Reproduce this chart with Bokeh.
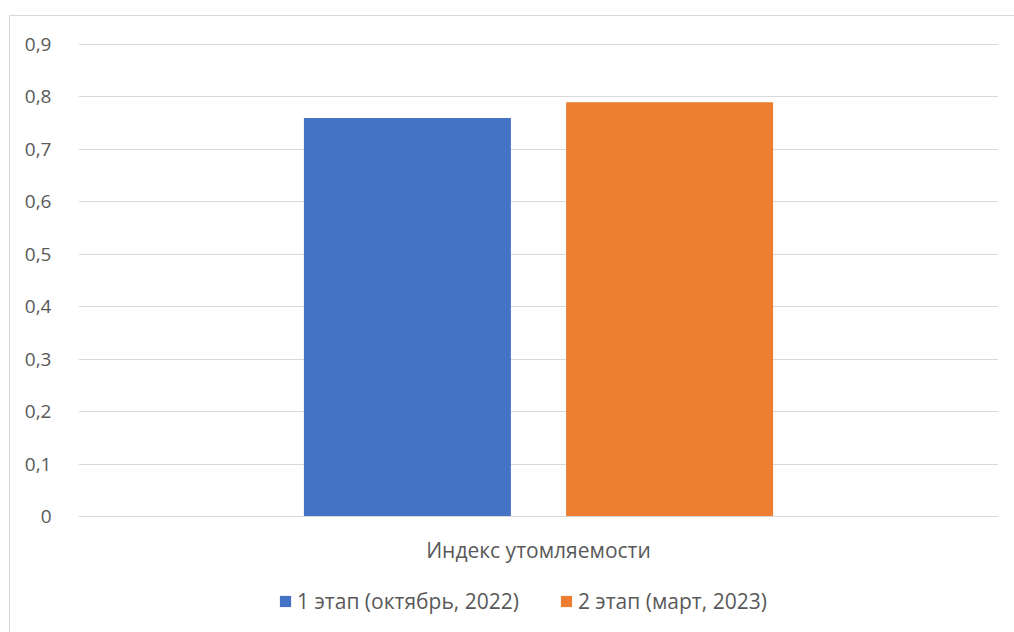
from bokeh.plotting import figure
from bokeh.layouts import column
from bokeh.models import (FactorRange, FixedTicker, CustomJSTickFormatter, Legend,
                          LegendItem, ColumnDataSource, Range1d)
from bokeh.transform import dodge
from bokeh.embed import file_html
from bokeh.resources import INLINE

categories = ["Индекс утомляемости"]
series_names = ["1 этап (октябрь, 2022)", "2 этап (март, 2023)"]
stage1 = [0.76]
stage2 = [0.79]
y_ticks = [0, 0.1, 0.2, 0.3, 0.4, 0.5, 0.6, 0.7, 0.8, 0.9]

FONT = "Open Sans"
TXT = "#595959"
GRID = "#D9D9D9"
C1 = "#4472C4"
C2 = "#ED7D31"

src = ColumnDataSource(dict(cat=categories, s1=stage1, s2=stage2))

p = figure(width=1004, height=555, x_range=FactorRange(*categories), y_range=(0, 0.902),
           output_backend="svg", toolbar_location=None,
           min_border_left=68, min_border_right=16, min_border_top=27, min_border_bottom=55)
p.outline_line_color = None
p.background_fill_color = "white"
p.border_fill_color = "white"

p.vbar(x=dodge("cat", -0.1425, range=p.x_range), top="s1", width=0.225, source=src,
       color=C1, line_color=None)
p.vbar(x=dodge("cat", 0.1425, range=p.x_range), top="s2", width=0.225, source=src,
       color=C2, line_color=None)

p.xgrid.grid_line_color = None
p.ygrid.grid_line_color = GRID
p.ygrid.grid_line_width = 1
p.yaxis.ticker = FixedTicker(ticks=y_ticks)
p.yaxis.formatter = CustomJSTickFormatter(code="return tick === 0 ? '0' : tick.toFixed(1).replace('.', ',');")
p.yaxis.axis_line_color = None
p.yaxis.major_tick_line_color = None
p.yaxis.minor_tick_line_color = None
p.yaxis.major_label_standoff = 21
p.yaxis.major_label_text_font = FONT
p.yaxis.major_label_text_font_size = "19px"
p.yaxis.major_label_text_color = TXT

p.xaxis.axis_line_color = GRID
p.xaxis.major_tick_line_color = None
p.xaxis.minor_tick_line_color = None
p.xaxis.major_label_standoff = 13
p.xaxis.major_label_text_font = FONT
p.xaxis.major_label_text_font_size = "21px"
p.xaxis.major_label_text_color = TXT

# legend strip (bars drawn from the same data, outside this strip's visible range)
lf = figure(width=1004, height=61, x_range=FactorRange(*categories), y_range=Range1d(5, 6),
            output_backend="svg", toolbar_location=None,
            min_border_left=0, min_border_right=0, min_border_top=0, min_border_bottom=0)
lf.axis.visible = False
lf.grid.visible = False
lf.outline_line_color = None
lf.border_fill_color = "white"
lr1 = lf.vbar(x=dodge("cat", -0.1425, range=lf.x_range), top="s1", width=0.225, source=src,
              color=C1, line_color=None)
lr2 = lf.vbar(x=dodge("cat", 0.1425, range=lf.x_range), top="s2", width=0.225, source=src,
              color=C2, line_color=None)
legend = Legend(items=[LegendItem(label=series_names[0], renderers=[lr1]),
                       LegendItem(label=series_names[1], renderers=[lr2])],
                orientation="horizontal", location=(200, 17),
                glyph_width=14, glyph_height=14, spacing=40, label_standoff=5,
                label_text_font=FONT, label_text_font_size="21px", label_text_color=TXT,
                border_line_color=None, background_fill_alpha=0, margin=0, padding=0)
lf.add_layout(legend)

layout = column(p, lf, spacing=0, margin=(16, 0, 0, 10),
                styles={"outline": "1.5px solid #D9D9D9"})

open("out.html", "w").write(file_html(layout, INLINE))
